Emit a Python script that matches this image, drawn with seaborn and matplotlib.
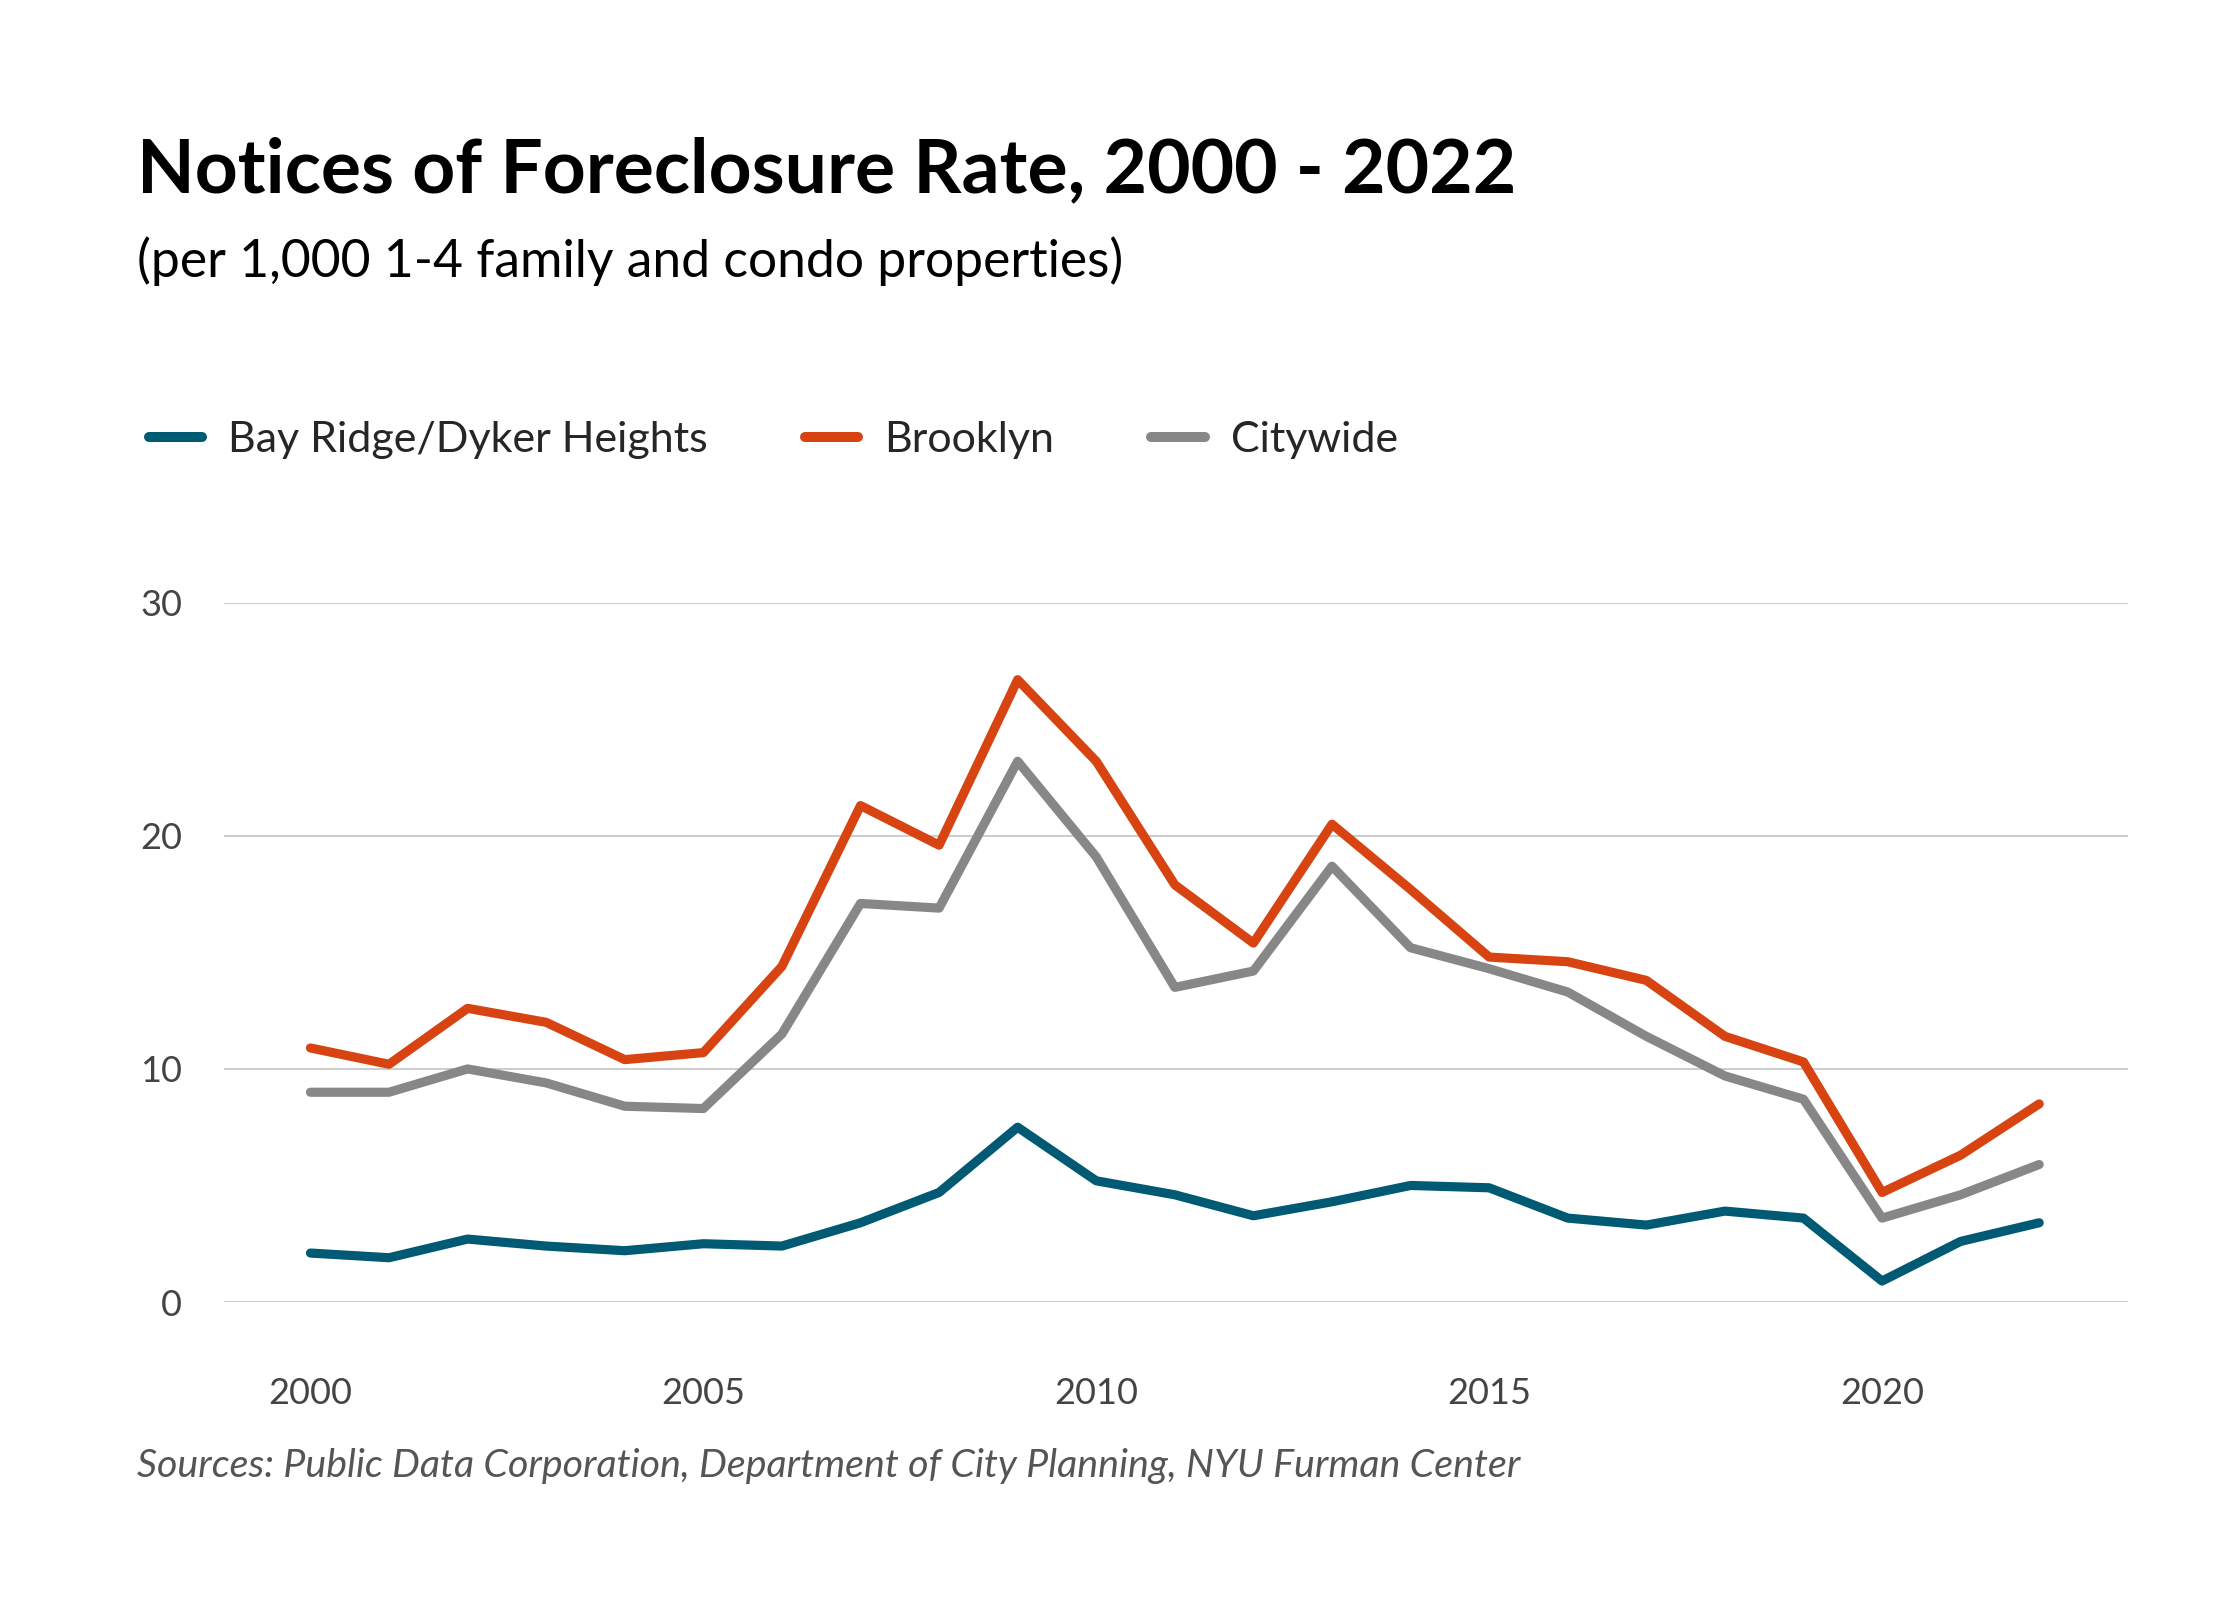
import pandas as pd
import matplotlib
matplotlib.use("Agg")
import matplotlib.pyplot as plt
import seaborn as sns

# ---------------------------------------------------------------------------
# Data
# ---------------------------------------------------------------------------
years = list(range(2000, 2023))

bay_ridge = [2.1, 1.9, 2.7, 2.4, 2.2, 2.5, 2.4, 3.4, 4.7, 7.5, 5.2, 4.6,
             3.7, 4.3, 5.0, 4.9, 3.6, 3.3, 3.9, 3.6, 0.9, 2.6, 3.4]
brooklyn  = [10.9, 10.2, 12.6, 12.0, 10.4, 10.7, 14.4, 21.3, 19.6, 26.7, 23.2, 17.9,
             15.4, 20.5, 17.7, 14.8, 14.6, 13.8, 11.4, 10.3, 4.7, 6.3, 8.5]
citywide  = [9.0, 9.0, 10.0, 9.4, 8.4, 8.3, 11.5, 17.1, 16.9, 23.2, 19.1, 13.5,
             14.2, 18.7, 15.2, 14.3, 13.3, 11.4, 9.7, 8.7, 3.6, 4.6, 5.9]

series_names = ["Bay Ridge/Dyker Heights", "Brooklyn", "Citywide"]
y_ticks      = [0, 10, 20, 30]
x_ticks      = [2000, 2005, 2010, 2015, 2020]

title    = "Notices of Foreclosure Rate, 2000 - 2022"
subtitle = "(per 1,000 1-4 family and condo properties)"
source   = "Sources: Public Data Corporation, Department of City Planning, NYU Furman Center"

df = pd.DataFrame({
    "year":   years * 3,
    "rate":   bay_ridge + brooklyn + citywide,
    "series": [n for n in series_names for _ in years],
})

palette = {
    "Bay Ridge/Dyker Heights": "#005a74",
    "Brooklyn":                "#d84312",
    "Citywide":                "#878787",
}

# ---------------------------------------------------------------------------
# Plot
# ---------------------------------------------------------------------------
sns.set_style("white")
plt.rcParams["font.family"] = ["Lato", "DejaVu Sans"]

fig = plt.figure(figsize=(11.2, 8), dpi=200)
ax = fig.add_axes([0.1, 0.18625, 0.85, 0.437])

sns.lineplot(data=df, x="year", y="rate", hue="series", palette=palette,
             linewidth=3.3, ax=ax, legend=False, zorder=3)

ax.set_xlim(1998.9, 2023.13)
ax.set_ylim(0, 30)
ax.set_yticks(y_ticks)
ax.set_xticks(x_ticks)
ax.set_xlabel("")
ax.set_ylabel("")
for s in ax.spines.values():
    s.set_visible(False)
ax.yaxis.grid(True, color="#cccccc", linewidth=0.7)
ax.xaxis.grid(False)
ax.tick_params(axis="both", length=0, labelsize=13, colors="#444444")
ax.tick_params(axis="y", pad=15)
ax.tick_params(axis="x", pad=27)
for ln in ax.get_lines():
    ln.set_clip_on(False)

# legend across the top
handles = [plt.Line2D([], [], color=palette[n], linewidth=3.6) for n in series_names]
fig.legend(handles, series_names, loc="center left", bbox_to_anchor=(0.049, 0.725),
           ncol=3, frameon=False, fontsize=15.5, handlelength=1.25,
           handletextpad=0.6, columnspacing=2.25)

fig.text(0.061, 0.88, title, fontsize=27, fontweight="bold", color="black",
         va="baseline")
fig.text(0.061, 0.827, subtitle, fontsize=18.6, color="black", va="baseline")
fig.text(0.061, 0.077, source, fontsize=14.2, style="italic", color="#555555",
         va="baseline")

plt.savefig("out.png", dpi=200)
